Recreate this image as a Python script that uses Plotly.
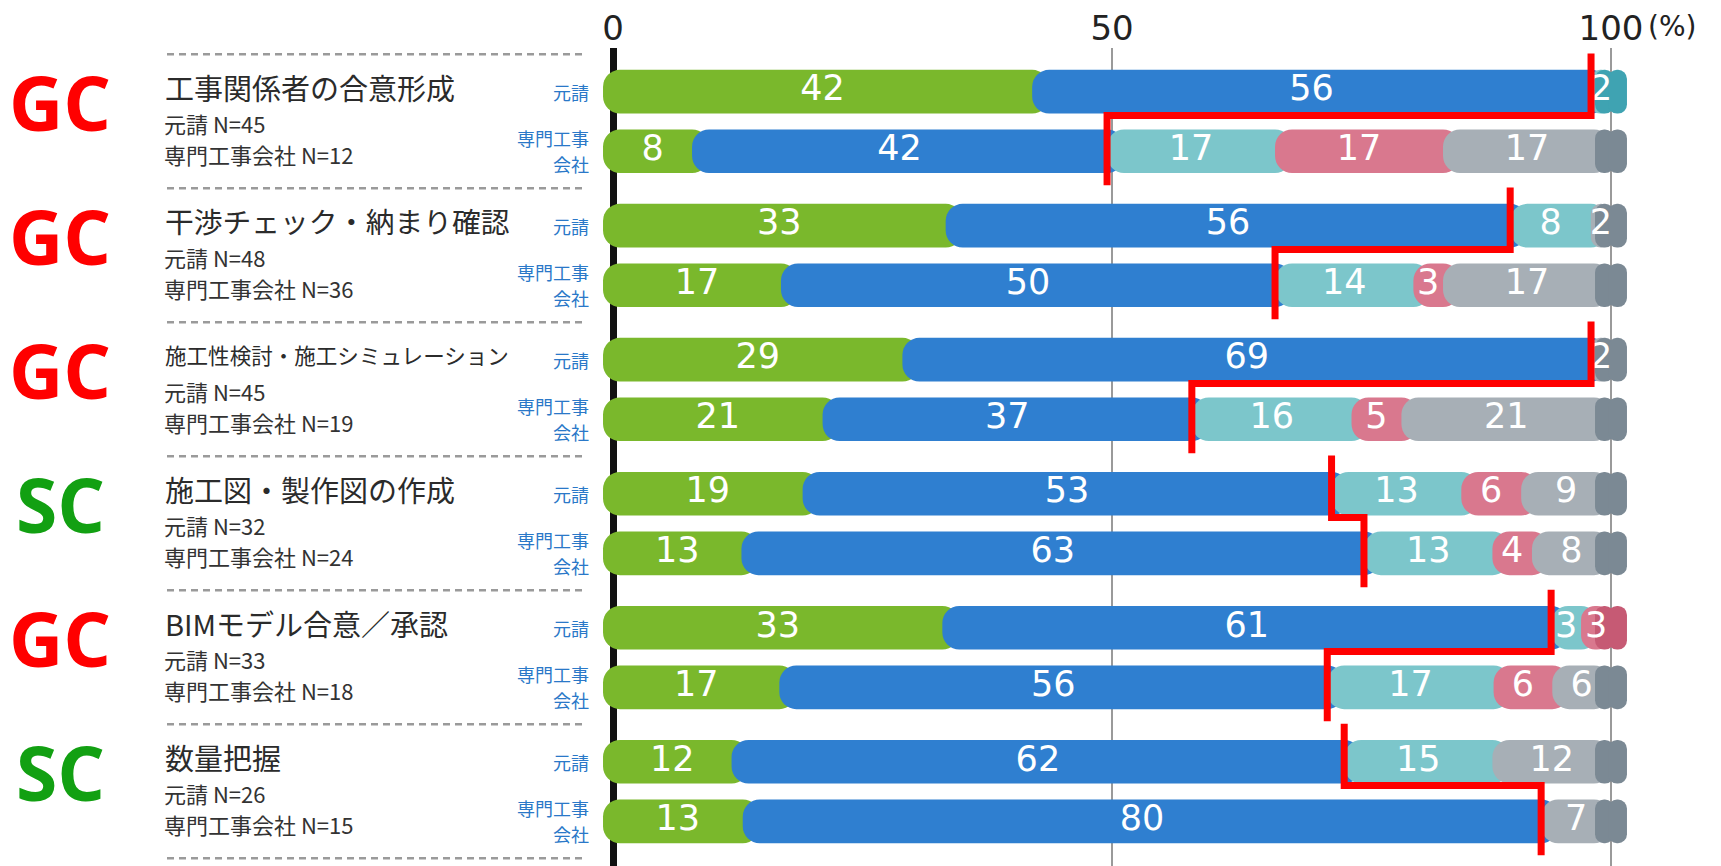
import plotly.graph_objects as go

# ---------------- data ----------------
tasks = ["工事関係者の合意形成", "干渉チェック・納まり確認", "施工性検討・施工シミュレーション",
         "施工図・製作図の作成", "BIMモデル合意／承認", "数量把握"]
leads = ["GC", "GC", "GC", "SC", "GC", "SC"]
n_motouke = [45, 48, 45, 32, 33, 26]
n_senmon = [12, 36, 19, 24, 18, 15]
resp_short = ["元請", "専門工事", "会社"]
x_ticks = [0, 50, 100]
x_ticktext = ["0", "50", "100"]

# rows: for each task, 元請 then 専門工事会社
green = [42, 8, 33, 17, 29, 21, 19, 13, 33, 17, 12, 13]
blue = [56, 42, 56, 50, 69, 37, 53, 63, 61, 56, 62, 80]
teal = [2, 17, 8, 14, 0, 16, 13, 13, 3, 17, 15, 0]
pink = [0, 17, 0, 3, 0, 5, 6, 4, 3, 6, 0, 0]
gray = [0, 17, 2, 17, 2, 21, 9, 8, 0, 6, 12, 7]
series_names = ["区分A", "区分B", "区分C", "区分D", "区分E"]

# ---------------- layout geometry ----------------
OFF = 8                      # page body margin of the html page
W, H = 1721 - OFF, 866 - OFF
TOP = 42 - OFF
X0_PX, PX_PER_X = 613 - OFF, 9.98
ROW0_PX, PX_PER_Y = 86 - OFF, 60.0


def px2x(p):
    """reference-screen pixel -> x data value"""
    return (p - OFF - X0_PX) / PX_PER_X


GROUP_PITCH = 2.25
BAR_W = 44 / PX_PER_Y
R_PX = 17
R_UNITS = R_PX / PX_PER_X
LEAD = 1.0
CAP_H = 1.6
CAP_OV = 0.3
CAP_R = 10

series = [green, blue, teal, pink, gray]
colors = ["#7ab82c", "#2f7fd0", "#7cc6cb", "#d9788e", "#a7afb6"]
cap_colors = ["#5e9a22", "#1f5fa8", "#3fa3b2", "#c65a74", "#7b8994"]

nrows = len(green)
ys = [g * GROUP_PITCH + j for g in range(len(tasks)) for j in (0, 1)]
totals = [sum(s[i] for s in series) for i in range(nrows)]
widths = [[s[i] * 100.0 / totals[i] for i in range(nrows)] for s in series]
starts = []
for k in range(len(series)):
    starts.append([sum(widths[m][i] for m in range(k)) for i in range(nrows)])

fig = go.Figure()

# stacked tube segments (each segment rounded on its left, overlapping the previous)
for k in range(len(series)):
    xs, bases = [], []
    for i in range(nrows):
        w = widths[k][i]
        if w == 0:
            xs.append(None)
            bases.append(None)
            continue
        en = starts[k][i] + w
        later = any(widths[m][i] > 0 for m in range(k + 1, len(series)))
        ext = R_UNITS if later else 0
        lead = LEAD if k == 0 else 0
        bases.append(en + ext)
        xs.append(-(w + ext + lead))
    fig.add_trace(go.Bar(x=xs, y=ys, base=bases, orientation="h", width=BAR_W,
                         name=series_names[k],
                         marker=dict(color=colors[k], cornerradius=R_PX, line=dict(width=0)),
                         hoverinfo="skip"))

# end caps (darker tone of the last segment)
cap_col = []
for i in range(nrows):
    last = max(k for k in range(len(series)) if widths[k][i] > 0)
    cap_col.append(cap_colors[last])
fig.add_trace(go.Bar(x=[-(CAP_H + CAP_OV)] * nrows, y=ys, base=[100 + CAP_OV] * nrows,
                     orientation="h", width=BAR_W,
                     marker=dict(color=cap_col, cornerradius=CAP_R, line=dict(width=0)),
                     hoverinfo="skip"))
fig.add_trace(go.Bar(x=[CAP_H + CAP_OV] * nrows, y=ys, base=[100 - CAP_OV] * nrows,
                     orientation="h", width=BAR_W,
                     marker=dict(color=cap_col, cornerradius=CAP_R, line=dict(width=0)),
                     hoverinfo="skip"))

# value labels
for k in range(len(series)):
    tx, ty, tt = [], [], []
    for i in range(nrows):
        if series[k][i] > 0:
            tx.append(starts[k][i] + widths[k][i] / 2)
            ty.append(ys[i])
            tt.append(str(series[k][i]))
    fig.add_trace(go.Scatter(x=tx, y=ty, text=tt, mode="text",
                             textfont=dict(family="DejaVu Sans", size=35, color="white"),
                             hoverinfo="skip"))

# red step line (end of green+blue for 元請 → 専門工事会社)
lx, ly = [], []
for g in range(len(tasks)):
    i1, i2 = 2 * g, 2 * g + 1
    x1 = starts[2][i1]
    x2 = starts[2][i2]
    ya, yb = ys[i1], ys[i2]
    lx += [x1, x1, x2, x2, None]
    ly += [ya - 0.64, ya + 0.40, ya + 0.40, yb + 0.57, None]
fig.add_trace(go.Scatter(x=lx, y=ly, mode="lines", line=dict(color="#ff0000", width=7),
                         hoverinfo="skip"))

# ---------------- left side labels ----------------
ann = []
shapes = []


def em_width(s):
    return sum(0.6 if ord(c) < 128 else 1.0 for c in s)


for g in range(len(tasks)):
    y0 = g * GROUP_PITCH
    ann.append(dict(x=px2x(60), y=y0 + 0.17, text="<b>" + leads[g] + "</b>",
                    xanchor="center", yanchor="middle", showarrow=False,
                    font=dict(family="Open Sans", size=75,
                              color="#ff0000" if leads[g] == "GC" else "#12a012")))
    fs = min(29, 345 / em_width(tasks[g]))
    ann.append(dict(x=px2x(163), y=y0 - 0.08, text=tasks[g], xanchor="left", yanchor="middle",
                    showarrow=False, font=dict(family="Noto Sans CJK JP", size=fs, color="#2b2b2b")))
    ann.append(dict(x=px2x(163), y=y0 + 0.52, text=f"元請 N={n_motouke[g]}", xanchor="left",
                    yanchor="middle", showarrow=False, borderpad=0,
                    font=dict(family="Noto Sans CJK JP", size=22, color="#333333")))
    ann.append(dict(x=px2x(163), y=y0 + 1.04, text=f"専門工事会社 N={n_senmon[g]}", xanchor="left",
                    yanchor="middle", showarrow=False, borderpad=0,
                    font=dict(family="Noto Sans CJK JP", size=22, color="#333333")))
    for txt, dy in ((resp_short[0], 0.0), (resp_short[1], 0.78), (resp_short[2], 1.22)):
        ann.append(dict(x=px2x(590), y=y0 + dy, text=txt, xanchor="right", yanchor="middle",
                        showarrow=False, borderpad=0,
                        font=dict(family="Noto Sans CJK JP", size=18, color="#2a78c8")))

for k in range(len(tasks) + 1):
    yy = -0.63 + GROUP_PITCH * k
    shapes.append(dict(type="line", xref="x", yref="y", x0=px2x(167), x1=px2x(582),
                       y0=yy, y1=yy, line=dict(color="#9a9a9a", width=2.5, dash="7px,5px")))

ann.append(dict(x=(1646 - OFF) / W, y=(H - (20 - OFF)) / (H - TOP), xref="paper", yref="paper",
                text="(%)", xanchor="left", yanchor="middle", showarrow=False,
                font=dict(family="DejaVu Sans", size=28, color="#222222")))

fig.update_layout(
    width=W, height=H,
    margin=dict(l=0, r=0, t=TOP, b=0, pad=0),
    barmode="overlay",
    showlegend=False,
    paper_bgcolor="white", plot_bgcolor="white",
    annotations=ann, shapes=shapes,
    xaxis=dict(range=[px2x(OFF), px2x(OFF + W)], side="top", tickvals=x_ticks, ticktext=x_ticktext,
               tickfont=dict(family="DejaVu Sans", size=34, color="#222222"),
               showgrid=True, gridcolor="#9a9a9a", gridwidth=2,
               zeroline=True, zerolinecolor="#111111", zerolinewidth=7,
               showline=False, ticks="", fixedrange=True),
    yaxis=dict(range=[(H - ROW0_PX) / PX_PER_Y, (TOP - ROW0_PX) / PX_PER_Y], visible=False,
               fixedrange=True),
)

fig.write_html("out.html")
